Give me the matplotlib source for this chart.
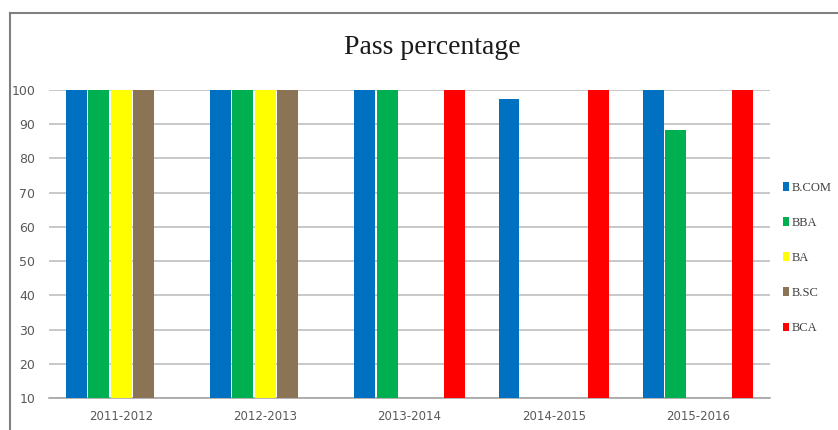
import numpy as np
import matplotlib
matplotlib.use("Agg")
import matplotlib.pyplot as plt
from matplotlib.lines import Line2D

years = ["2011-2012", "2012-2013", "2013-2014", "2014-2015", "2015-2016"]
courses = ["B.COM", "BBA", "BA", "B.SC", "BCA"]
bcom = [100, 100, 100, 97.4, 100]
bba = [100, 100, 100, 0, 88.3]
ba = [100, 100, 0, 0, 0]
bsc = [100, 100, 0, 0, 0]
bca = [0, 0, 100, 100, 100]
colors = ["#0070c0", "#00b050", "#ffff00", "#8b7355", "#ff0000"]

series = [bcom, bba, ba, bsc, bca]

fig = plt.figure(figsize=(8.38, 4.30), dpi=100)
ax = fig.add_axes([49/838, 32/430, (770-49)/838, (398-90)/430])

x = np.arange(len(years))
step, w = 0.155, 0.145
for j, (name, vals) in enumerate(zip(courses, series)):
    ax.bar(x + (j - 2) * step, vals, width=w, color=colors[j], label=name,
           edgecolor="none", zorder=3)

ax.set_xlim(-0.5, len(years) - 0.5)
ax.set_ylim(10, 100)
ax.set_yticks(range(10, 101, 10))
ax.set_xticks(x)
ax.set_xticklabels(years)
ax.yaxis.grid(True, color="#bfbfbf", lw=1.2, zorder=0)
for s in ["left", "right", "top"]:
    ax.spines[s].set_visible(False)
ax.spines["bottom"].set_color("#a6a6a6")
ax.spines["bottom"].set_linewidth(1.2)
ax.tick_params(length=0, colors="#595959", labelsize=8.5, pad=9)
ax.tick_params(axis="y", pad=10, labelsize=9)

fig.text(432/838, 1 - 47/430, "Pass percentage", ha="center", va="center",
         family="Liberation Serif", fontsize=20, color="#1a1a1a")

leg = ax.legend(loc="center left", bbox_to_anchor=(774/838, 1 - 258/430),
                bbox_transform=fig.transFigure, frameon=False, handlelength=0.5,
                handleheight=0.7, handletextpad=0.25, labelspacing=1.85,
                borderpad=0.2, prop={"family": "Liberation Serif", "size": 9})
for t in leg.get_texts():
    t.set_color("#404040")

# outer chart frame
fig.add_artist(Line2D([10/838, 10/838], [0, 1 - 13/430], transform=fig.transFigure,
                      color="#808080", lw=1.5))
fig.add_artist(Line2D([10/838, 1], [1 - 13/430, 1 - 13/430], transform=fig.transFigure,
                      color="#808080", lw=1.5))

fig.savefig("out.png", dpi=100)
